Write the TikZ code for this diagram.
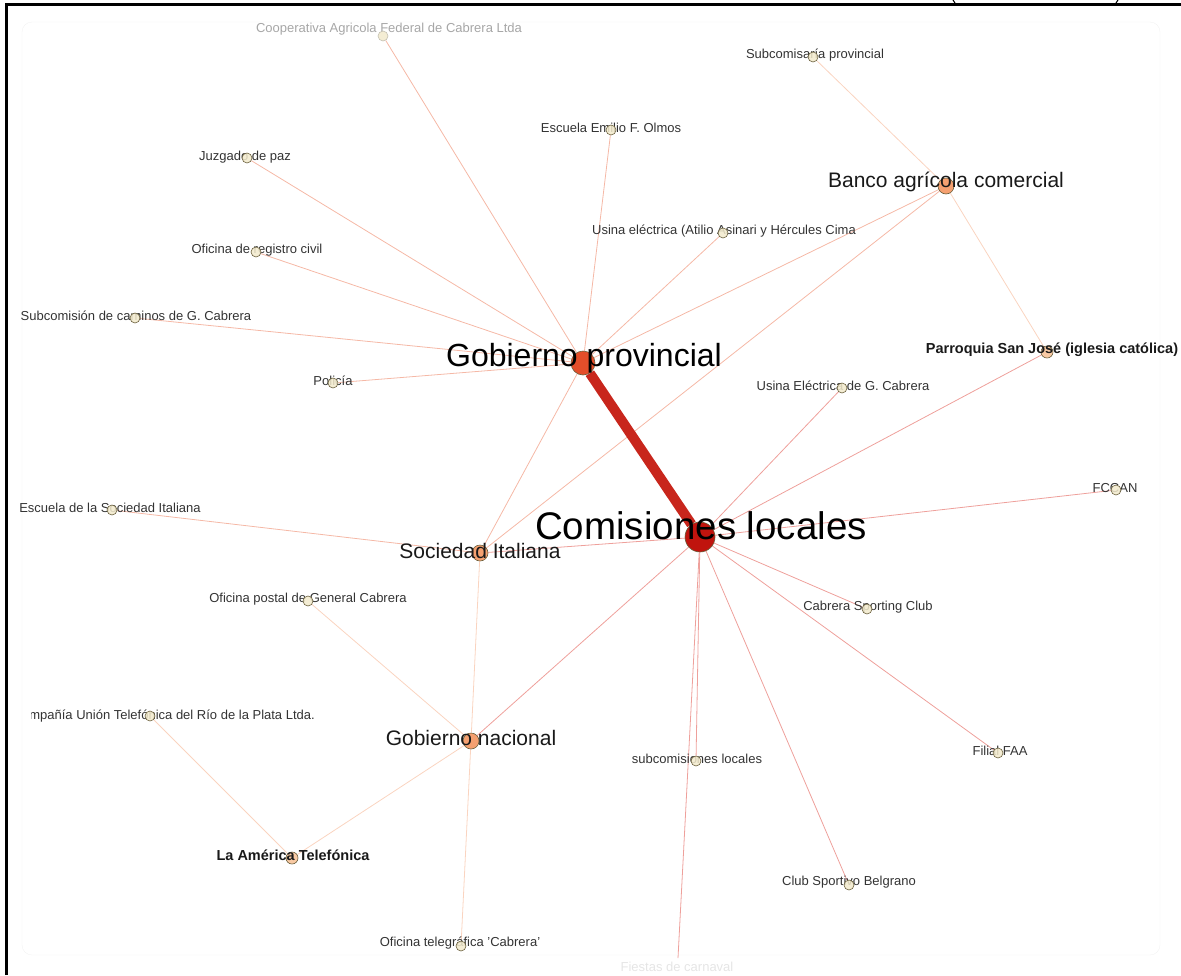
\documentclass[tikz,border=0pt]{standalone}
\usepackage{fontspec}
\setmainfont{Liberation Sans}
\usetikzlibrary{backgrounds}

\definecolor{hubred}{RGB}{192,20,14}
\definecolor{provred}{RGB}{228,78,42}
\definecolor{midorange}{RGB}{245,160,112}
\definecolor{lightorange}{RGB}{249,202,164}
\definecolor{leafbeige}{RGB}{242,234,204}
\definecolor{leafline}{RGB}{105,95,60}
\definecolor{redlink}{RGB}{238,160,155}
\definecolor{salmonlink}{RGB}{245,184,166}
\definecolor{peachlink}{RGB}{250,212,192}
\definecolor{heavylink}{RGB}{200,38,28}

\begin{document}
\begin{tikzpicture}[
  x=1pt, y=-1pt,
  dot/.style={circle, inner sep=0pt, draw=leafline, line width=0.6pt},
  hub/.style={dot, fill=hubred, minimum size=30pt},
  prov/.style={dot, fill=provred, minimum size=24pt},
  mid/.style={dot, fill=midorange, minimum size=16pt},
  minor/.style={dot, fill=lightorange, minimum size=12pt},
  leaf/.style={dot, fill=leafbeige, minimum size=10pt, fill opacity=0.85},
  lbl/.style={inner sep=0pt, text=black!80, font=\fontsize{13}{14}\selectfont},
  midlbl/.style={inner sep=0pt, text=black!90, font=\fontsize{21}{22}\selectfont},
  boldlbl/.style={inner sep=0pt, text=black!90, font=\fontsize{14.5}{15}\selectfont\bfseries},
  redline/.style={draw=redlink, line width=0.8pt},
  salmonline/.style={draw=salmonlink, line width=0.8pt},
  peachline/.style={draw=peachlink, line width=0.8pt}
]
  \useasboundingbox (0,0) rectangle (1181,975);
  \draw[black!5, rounded corners=10pt] (22,22) rectangle (1160,955);

  \node[hub] (cl) at (700,537) {};
  \node[prov] (gp) at (583,363) {};
  \node[mid] (bac) at (946,186) {};
  \node[mid] (si) at (480,553) {};
  \node[mid] (gn) at (471,741) {};
  \node[minor] (lat) at (292,858) {};
  \node[minor] (parr) at (1047,352) {};

  \node[lbl, text=black!35] (coopT) at (389,29) {Cooperativa Agricola Federal de Cabrera Ltda};
  \node[lbl] (subcomT) at (815,55) {Subcomisaría provincial};
  \node[lbl] (emilioT) at (611,128) {Escuela Emilio F. Olmos};
  \node[lbl] (juzgT) at (245,157) {Juzgado de paz};
  \node[midlbl] (bacT) at (946,182) {Banco agrícola comercial};
  \node[lbl] (usinaAT) at (724,231) {Usina eléctrica (Atilio Asinari y Hércules Cima};
  \node[lbl] (regcivT) at (257,250) {Oficina de registro civil};
  \node[lbl] (caminosT) at (136,316) {Subcomisión de caminos de G. Cabrera};
  \node[inner sep=0pt, font=\fontsize{32}{33}\selectfont] (gpT) at (584,358) {Gobierno provincial};
  \node[boldlbl] (parrT) at (1052,350) {Parroquia San José (iglesia católica)};
  \node[lbl] (policiaT) at (333,381) {Policía};
  \node[lbl] (usinaGT) at (843,386) {Usina Eléctrica de G. Cabrera};
  \node[lbl] (fccanT) at (1115,488) {FCCAN};
  \node[lbl] (escSIT) at (110,508) {Escuela de la Sociedad Italiana};
  \node[inner sep=0pt, font=\fontsize{38.5}{39}\selectfont] (clT) at (701,526) {Comisiones locales};
  \node[midlbl] (siT) at (480,551) {Sociedad Italiana};
  \node[lbl] (postalT) at (308,599) {Oficina postal de General Cabrera};
  \node[lbl] (sportingT) at (868,607) {Cabrera Sporting Club};
  \begin{scope}
    \clip (31,690) rectangle (400,740);
    \node[lbl, anchor=east] (ciaT) at (315,716) {Compañía Unión Telefónica del Río de la Plata Ltda.};
  \end{scope}
  \node[midlbl] (gnT) at (471,738) {Gobierno nacional};
  \node[lbl] (faaT) at (1000,751) {Filial FAA};
  \node[lbl] (sublocT) at (697,759) {subcomisiones locales};
  \node[boldlbl] (latT) at (293,855) {La América Telefónica};
  \node[lbl] (belgranoT) at (849,882) {Club Sportivo Belgrano};
  \node[lbl] (telegT) at (460,943) {Oficina telegráfica 'Cabrera'};
  \node[lbl, text=black!10] (fiestasT) at (677,967) {Fiestas de carnaval};

  \node[leaf, draw=leafline!40] (coop) at (383,36) {};
  \node[leaf] (subcom) at (813,57) {};
  \node[leaf] (emilio) at (611,130) {};
  \node[leaf] (juzg) at (247,158) {};
  \node[leaf] (usinaA) at (723,233) {};
  \node[leaf] (regciv) at (256,252) {};
  \node[leaf] (caminos) at (135,318) {};
  \node[leaf] (policia) at (333,383) {};
  \node[leaf] (usinaG) at (842,388) {};
  \node[leaf] (fccan) at (1116,490) {};
  \node[leaf] (escSI) at (112,510) {};
  \node[leaf] (postal) at (308,601) {};
  \node[leaf] (sporting) at (867,609) {};
  \node[leaf] (cia) at (150,716) {};
  \node[leaf] (faa) at (998,753) {};
  \node[leaf] (subloc) at (696,761) {};
  \node[leaf] (belgrano) at (849,885) {};
  \node[leaf] (teleg) at (461,946) {};
  \node[leaf, draw=none, fill=none] (fiestas) at (678,958) {};

  \begin{scope}[on background layer]
    \draw[salmonline] (gp) -- (coop);
    \draw[salmonline] (gp) -- (emilio);
    \draw[salmonline] (gp) -- (juzg);
    \draw[salmonline] (gp) -- (usinaA);
    \draw[salmonline] (gp) -- (regciv);
    \draw[salmonline] (gp) -- (caminos);
    \draw[salmonline] (gp) -- (policia);
    \draw[salmonline] (gp) -- (bac);
    \draw[salmonline] (gp) -- (si);
    \draw[salmonline] (si) -- (bac);
    \draw[salmonline] (si) -- (escSI);
    \draw[redline] (cl) -- (si);
    \draw[redline] (cl) -- (gn);
    \draw[redline] (cl) -- (usinaG);
    \draw[redline] (cl) -- (parr);
    \draw[redline] (cl) -- (fccan);
    \draw[redline] (cl) -- (sporting);
    \draw[redline] (cl) -- (faa);
    \draw[redline] (cl) -- (subloc);
    \draw[redline] (cl) -- (belgrano);
    \draw[redline] (cl) -- (fiestas.center);
    \draw[peachline] (bac) -- (subcom);
    \draw[peachline] (bac) -- (parr);
    \draw[peachline] (si) -- (gn);
    \draw[peachline] (gn) -- (postal);
    \draw[peachline] (gn) -- (lat);
    \draw[peachline] (gn) -- (teleg);
    \draw[peachline] (lat) -- (cia);
    \draw[draw=heavylink, line width=10pt] (gp) -- (cl);
  \end{scope}

  \draw[line width=3pt] (6,975) -- (6,4) -- (1181,4);
  \draw[line width=1pt] (953,0) -- (955,3);
  \draw[line width=1pt] (1118,0) -- (1116,3);
\end{tikzpicture}
\end{document}
